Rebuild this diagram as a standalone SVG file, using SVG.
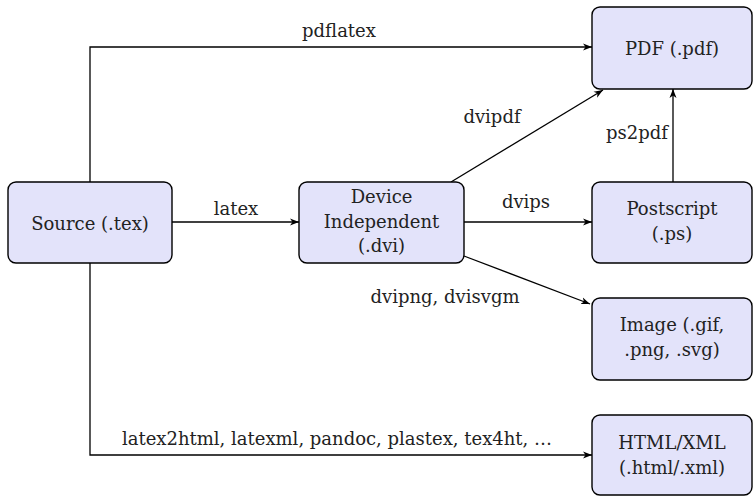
<svg xmlns="http://www.w3.org/2000/svg" width="754" height="496" viewBox="0 0 754 496">
<defs>
<style>
.box{fill:#e3e3fa;stroke:#000;stroke-width:1.4}
text{font-family:'DejaVu Serif',serif;font-size:18px;fill:#222;text-anchor:middle}
.c{fill:none;stroke:#000;stroke-width:1.3}
</style>
<marker id="ah" markerUnits="userSpaceOnUse" markerWidth="10" markerHeight="8" refX="9" refY="4" orient="auto">
<path d="M0,0.5 L9,4 L0,7.5 L2.5,4 Z" fill="#000"/>
</marker>
</defs>
<g id="connectors">
<path class="c" d="M90,182 V47 H592" marker-end="url(#ah)"/>
<path class="c" d="M172,222 H299" marker-end="url(#ah)"/>
<path class="c" d="M451,182 L603,90" marker-end="url(#ah)"/>
<path class="c" d="M464,222 H592" marker-end="url(#ah)"/>
<path class="c" d="M464,256 L590,304" marker-end="url(#ah)"/>
<path class="c" d="M673,182 V89" marker-end="url(#ah)"/>
<path class="c" d="M90,263 V455 H592" marker-end="url(#ah)"/>
<text x="339" y="37">pdflatex</text>
<text x="236" y="215">latex</text>
<text x="492" y="123">dvipdf</text>
<text x="526" y="208">dvips</text>
<text x="445" y="303">dvipng, dvisvgm</text>
<text x="637" y="139">ps2pdf</text>
<text x="337" y="445">latex2html, latexml, pandoc, plastex, tex4ht, …</text>
</g>
<g id="source">
<rect class="box" x="8" y="182" width="164" height="81" rx="8"/>
<text x="90" y="230">Source (.tex)</text>
</g>
<g id="dvi">
<rect class="box" x="299" y="182" width="165" height="81" rx="8"/>
<text x="381.5" y="203">Device</text>
<text x="381.5" y="228">Independent</text>
<text x="381.5" y="252">(.dvi)</text>
</g>
<g id="pdf">
<rect class="box" x="592" y="7" width="160" height="82" rx="8"/>
<text x="672" y="55">PDF (.pdf)</text>
</g>
<g id="ps">
<rect class="box" x="592" y="182" width="160" height="81" rx="8"/>
<text x="672" y="215">Postscript</text>
<text x="672" y="240">(.ps)</text>
</g>
<g id="image">
<rect class="box" x="592" y="298" width="160" height="82" rx="8"/>
<text x="672" y="331">Image (.gif,</text>
<text x="672" y="356">.png, .svg)</text>
</g>
<g id="html">
<rect class="box" x="592" y="415" width="160" height="80" rx="8"/>
<text x="672" y="449">HTML/XML</text>
<text x="672" y="474">(.html/.xml)</text>
</g>
</svg>
